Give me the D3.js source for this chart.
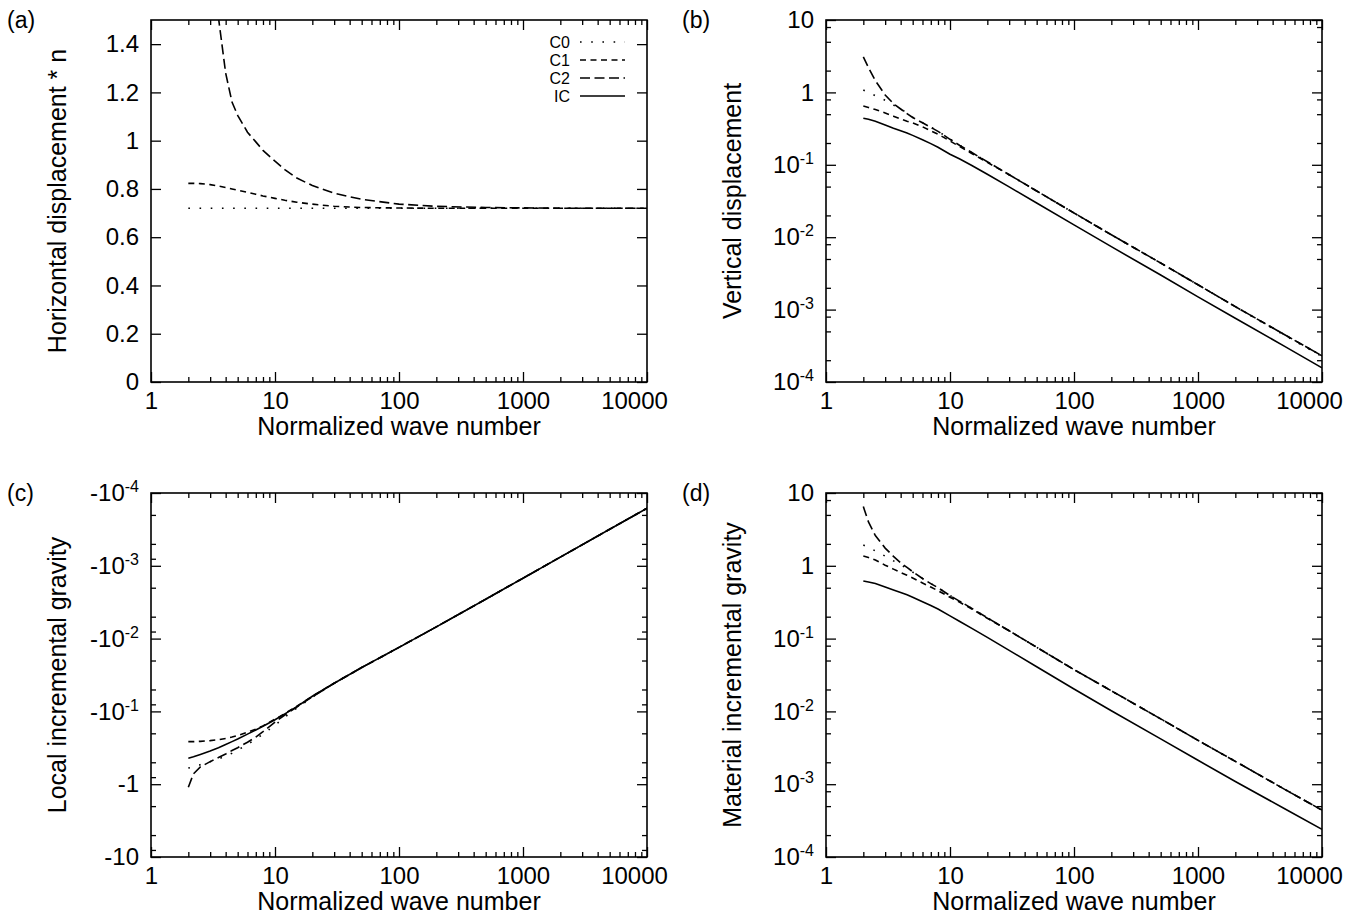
<!DOCTYPE html>
<html>
<head>
<meta charset="utf-8">
<script src="https://cdn.jsdelivr.net/npm/d3@7"></script>
<style>
  body { margin: 0; background: #fff; }
  svg { display: block; font-family: "Liberation Sans", Arial, Helvetica, sans-serif; }
</style>
</head>
<body>
<svg id="chart"></svg>
<script>
// normalized wave number (shared by every curve)
const waveNumbers = [2, 2.2, 2.5, 3, 3.5, 4, 4.5, 5, 6, 7, 8, 10, 12, 15, 20, 30, 50, 100, 200, 500, 1000, 2000, 5000, 10000];

// (a) horizontal displacement * n
const horizC0 = [0.72, 0.72, 0.72, 0.72, 0.72, 0.72, 0.72, 0.72, 0.72, 0.72, 0.72, 0.72, 0.72, 0.72, 0.72, 0.72, 0.72, 0.72, 0.72, 0.72, 0.72, 0.72, 0.72, 0.72];
const horizC1 = [0.823, 0.823, 0.822, 0.818, 0.812, 0.806, 0.8, 0.795, 0.786, 0.778, 0.771, 0.761, 0.753, 0.745, 0.737, 0.728, 0.723, 0.721, 0.72, 0.72, 0.72, 0.72, 0.72, 0.72];
const horizC2 = [5.0, 3.8, 2.9, 2.0, 1.51, 1.28, 1.16, 1.105, 1.035, 0.995, 0.96, 0.915, 0.88, 0.845, 0.814, 0.782, 0.757, 0.737, 0.728, 0.723, 0.7215, 0.72, 0.72, 0.72];

// (b) vertical displacement
const vertC0 = [1.08, 1.0, 0.9, 0.78, 0.67, 0.595, 0.515, 0.455, 0.382, 0.331, 0.291, 0.226, 0.186, 0.148, 0.11, 0.073, 0.0435, 0.0216, 0.0108, 0.0044, 0.0022, 0.0011, 4.4e-4, 2.25e-4];
const vertC1 = [0.65, 0.62, 0.58, 0.52, 0.47, 0.43, 0.4, 0.38, 0.335, 0.295, 0.265, 0.213, 0.178, 0.143, 0.108, 0.073, 0.0435, 0.0216, 0.0108, 0.0044, 0.0022, 0.0011, 4.5e-4, 2.3e-4];
const vertC2 = [3.1, 2.2, 1.45, 0.92, 0.7, 0.59, 0.51, 0.45, 0.38, 0.33, 0.29, 0.225, 0.185, 0.148, 0.11, 0.073, 0.0435, 0.0216, 0.0108, 0.0044, 0.0022, 0.0011, 4.5e-4, 2.3e-4];
const vertIC = [0.44, 0.425, 0.4, 0.355, 0.32, 0.295, 0.275, 0.255, 0.222, 0.196, 0.175, 0.14, 0.12, 0.098, 0.074, 0.0495, 0.0297, 0.0148, 0.0074, 0.003, 0.0015, 7.6e-4, 3.1e-4, 1.57e-4];

// (c) local incremental gravity (negative)
const localC0 = [-0.6, -0.58, -0.54, -0.49, -0.45, -0.41, -0.375, -0.34, -0.285, -0.24, -0.205, -0.155, -0.12, -0.09, -0.064, -0.041, -0.025, -0.0132, -0.0069, -0.00288, -0.00148, -7.6e-4, -3.15e-4, -1.62e-4];
const localC1 = [-0.26, -0.26, -0.258, -0.252, -0.245, -0.235, -0.225, -0.215, -0.193, -0.175, -0.158, -0.128, -0.107, -0.085, -0.062, -0.041, -0.025, -0.0132, -0.0069, -0.00288, -0.00148, -7.6e-4, -3.15e-4, -1.62e-4];
const localC2 = [-1.1, -0.72, -0.58, -0.49, -0.43, -0.385, -0.345, -0.315, -0.265, -0.225, -0.19, -0.14, -0.112, -0.087, -0.063, -0.041, -0.025, -0.0132, -0.0069, -0.00288, -0.00148, -7.6e-4, -3.15e-4, -1.62e-4];
const localIC = [-0.44, -0.42, -0.39, -0.35, -0.315, -0.285, -0.26, -0.24, -0.205, -0.18, -0.16, -0.13, -0.108, -0.086, -0.062, -0.041, -0.025, -0.0132, -0.0069, -0.00288, -0.00148, -7.6e-4, -3.15e-4, -1.62e-4];

// (d) material incremental gravity
const materialC0 = [1.93, 1.8, 1.6, 1.36, 1.17, 1.03, 0.92, 0.82, 0.67, 0.57, 0.5, 0.39, 0.325, 0.26, 0.193, 0.128, 0.076, 0.0375, 0.0192, 0.0079, 0.004, 0.00206, 8.5e-4, 4.4e-4];
const materialC1 = [1.36, 1.3, 1.2, 1.02, 0.9, 0.81, 0.74, 0.68, 0.58, 0.51, 0.455, 0.37, 0.315, 0.255, 0.19, 0.128, 0.076, 0.0375, 0.0192, 0.0079, 0.004, 0.00206, 8.5e-4, 4.4e-4];
const materialC2 = [6.5, 4.0, 2.6, 1.75, 1.35, 1.1, 0.95, 0.83, 0.67, 0.57, 0.5, 0.39, 0.325, 0.26, 0.193, 0.128, 0.076, 0.0375, 0.0192, 0.0079, 0.004, 0.00206, 8.5e-4, 4.4e-4];
const materialIC = [0.62, 0.6, 0.57, 0.51, 0.466, 0.43, 0.4, 0.37, 0.32, 0.285, 0.255, 0.205, 0.172, 0.138, 0.104, 0.069, 0.041, 0.0203, 0.0102, 0.0042, 0.00213, 0.00109, 4.6e-4, 2.4e-4];

const seriesNames = ["C0", "C1", "C2", "IC"];
const xTickValues = [1, 10, 100, 1000, 10000];
const xTickLabels = ["1", "10", "100", "1000", "10000"];
const horizTickValues = [0, 0.2, 0.4, 0.6, 0.8, 1, 1.2, 1.4];
const horizTickLabels = ["0", "0.2", "0.4", "0.6", "0.8", "1", "1.2", "1.4"];
const logTickValues = [1e-4, 1e-3, 1e-2, 1e-1, 1, 10];
const logTickExponents = [-4, -3, -2, -1, 0, 1];

const dashes = { C0: "1.6,9.6", C1: "6,4.5", C2: "10,4.5", IC: null };

const xMinorTicks = [];
[1, 10, 100, 1000].forEach(p => d3.range(2, 10).forEach(m => xMinorTicks.push(m * p)));
const logMinorTicks = [];
[1e-4, 1e-3, 1e-2, 1e-1, 1].forEach(p => [2, 5, 8].forEach(m => logMinorTicks.push(m * p)));

const svg = d3.select("#chart").attr("width", 1370).attr("height", 919);

function styleAxis(g) {
    g.select(".domain").remove();
    g.attr("font-family", null).attr("font-size", 24);
    g.selectAll(".tick line").attr("stroke", "#000").attr("stroke-width", 1.3);
    g.selectAll(".tick text").attr("fill", "#000");
}

function logLabel(sel, sign) {
    sel.selectAll(".tick text").each(function (d, i) {
        const t = d3.select(this).text(null);
        const k = logTickExponents[i];
        if (k === 0) { t.text(sign + "1"); return; }
        if (k === 1) { t.text(sign + "10"); return; }
        t.append("tspan").text(sign + "10");
        t.append("tspan").attr("font-size", 16).attr("dy", -9).text(k);
    });
}

function drawPanel(cfg) {
    const { left, top, width, height } = cfg;
    const g = svg.append("g").attr("transform", `translate(${left},${top})`);

    const x = d3.scaleLog().domain([1, 10000]).range([0, width]);
    const y = cfg.yScale.range(cfg.flip ? [0, height] : [height, 0]);
    const yVal = cfg.flip ? (v) => y(-v) : (v) => y(v);

    g.append("clipPath").attr("id", `clip-${cfg.label}`)
        .append("rect").attr("width", width).attr("height", height);

    // ticks, pointing inwards on all four sides
    g.append("g").attr("transform", `translate(0,${height})`)
        .call(d3.axisBottom(x).tickValues(xTickValues).tickFormat((d, i) => xTickLabels[i])
            .tickSizeInner(-10).tickSizeOuter(0).tickPadding(10))
        .call(styleAxis)
        .call(a => a.selectAll(".tick text").filter(d => d === 10000).attr("dx", -13));
    g.append("g").attr("transform", `translate(0,${height})`)
        .call(d3.axisBottom(x).tickValues(xMinorTicks).tickFormat("").tickSizeInner(-5).tickSizeOuter(0))
        .call(styleAxis);
    g.append("g")
        .call(d3.axisTop(x).tickValues(xTickValues).tickFormat("").tickSizeInner(-10).tickSizeOuter(0))
        .call(styleAxis);
    g.append("g")
        .call(d3.axisTop(x).tickValues(xMinorTicks).tickFormat("").tickSizeInner(-5).tickSizeOuter(0))
        .call(styleAxis);

    const left_ = g.append("g")
        .call(d3.axisLeft(y).tickValues(cfg.yTicks).tickFormat(cfg.yFormat || null)
            .tickSizeInner(-10).tickSizeOuter(0).tickPadding(12))
        .call(styleAxis);
    if (cfg.logLabels) logLabel(left_, cfg.flip ? "-" : "");
    g.append("g").attr("transform", `translate(${width},0)`)
        .call(d3.axisRight(y).tickValues(cfg.yTicks).tickFormat("").tickSizeInner(-10).tickSizeOuter(0))
        .call(styleAxis);
    if (cfg.yMinor) {
        g.append("g")
            .call(d3.axisLeft(y).tickValues(cfg.yMinor).tickFormat("").tickSizeInner(-5).tickSizeOuter(0))
            .call(styleAxis);
        g.append("g").attr("transform", `translate(${width},0)`)
            .call(d3.axisRight(y).tickValues(cfg.yMinor).tickFormat("").tickSizeInner(-5).tickSizeOuter(0))
            .call(styleAxis);
    }

    const line = d3.line().x(d => x(d[0])).y(d => yVal(d[1]));
    const curves = g.append("g").attr("clip-path", `url(#clip-${cfg.label})`);
    cfg.series.forEach(s => {
        if (!s.values) return;
        curves.append("path")
            .datum(waveNumbers.map((n, i) => [n, s.values[i]]))
            .attr("d", line)
            .attr("fill", "none")
            .attr("stroke", "#000")
            .attr("stroke-width", 1.6)
            .attr("stroke-dasharray", dashes[s.name]);
    });

    g.append("rect").attr("width", width).attr("height", height)
        .attr("fill", "none").attr("stroke", "#000").attr("stroke-width", 1.6);

    g.append("text")
        .attr("transform", `translate(-85,${height / 2}) rotate(-90)`)
        .attr("text-anchor", "middle").attr("font-size", 25)
        .text(cfg.yTitle);
    g.append("text")
        .attr("x", width / 2).attr("y", height + 53)
        .attr("text-anchor", "middle").attr("font-size", 25)
        .text("Normalized wave number");

    svg.append("text")
        .attr("x", cfg.labelX).attr("y", top + 8)
        .attr("font-size", 23)
        .text(`(${cfg.label})`);

    if (cfg.legend) {
        const lg = g.append("g").attr("transform", "translate(419,22)");
        seriesNames.forEach((name, i) => {
            lg.append("text").attr("x", 0).attr("y", i * 18)
                .attr("text-anchor", "end").attr("dominant-baseline", "central")
                .attr("font-size", 16).text(name);
            lg.append("line").attr("x1", 10).attr("x2", 55)
                .attr("y1", i * 18).attr("y2", i * 18)
                .attr("stroke", "#000").attr("stroke-width", 1.6)
                .attr("stroke-dasharray", dashes[name]);
        });
    }
}

drawPanel({
    label: "a", labelX: 7, left: 151, top: 20, width: 496, height: 362,
    yScale: d3.scaleLinear().domain([0, 1.5]),
    yTicks: horizTickValues, yFormat: (d, i) => horizTickLabels[i],
    yTitle: "Horizontal displacement * n",
    legend: true,
    series: [
        { name: "C0", values: horizC0 },
        { name: "C1", values: horizC1 },
        { name: "C2", values: horizC2 }
    ]
});

drawPanel({
    label: "b", labelX: 682, left: 826, top: 20, width: 496, height: 362,
    yScale: d3.scaleLog().domain([1e-4, 10]),
    yTicks: logTickValues, yMinor: logMinorTicks, logLabels: true,
    yTitle: "Vertical displacement",
    series: [
        { name: "C0", values: vertC0 },
        { name: "C1", values: vertC1 },
        { name: "C2", values: vertC2 },
        { name: "IC", values: vertIC }
    ]
});

drawPanel({
    label: "c", labelX: 7, left: 151, top: 493, width: 496, height: 364,
    yScale: d3.scaleLog().domain([1e-4, 10]), flip: true,
    yTicks: logTickValues, yMinor: logMinorTicks, logLabels: true,
    yTitle: "Local incremental gravity",
    series: [
        { name: "C0", values: localC0 },
        { name: "C1", values: localC1 },
        { name: "C2", values: localC2 },
        { name: "IC", values: localIC }
    ]
});

drawPanel({
    label: "d", labelX: 682, left: 826, top: 493, width: 496, height: 364,
    yScale: d3.scaleLog().domain([1e-4, 10]),
    yTicks: logTickValues, yMinor: logMinorTicks, logLabels: true,
    yTitle: "Material incremental gravity",
    series: [
        { name: "C0", values: materialC0 },
        { name: "C1", values: materialC1 },
        { name: "C2", values: materialC2 },
        { name: "IC", values: materialIC }
    ]
});
</script>
</body>
</html>
